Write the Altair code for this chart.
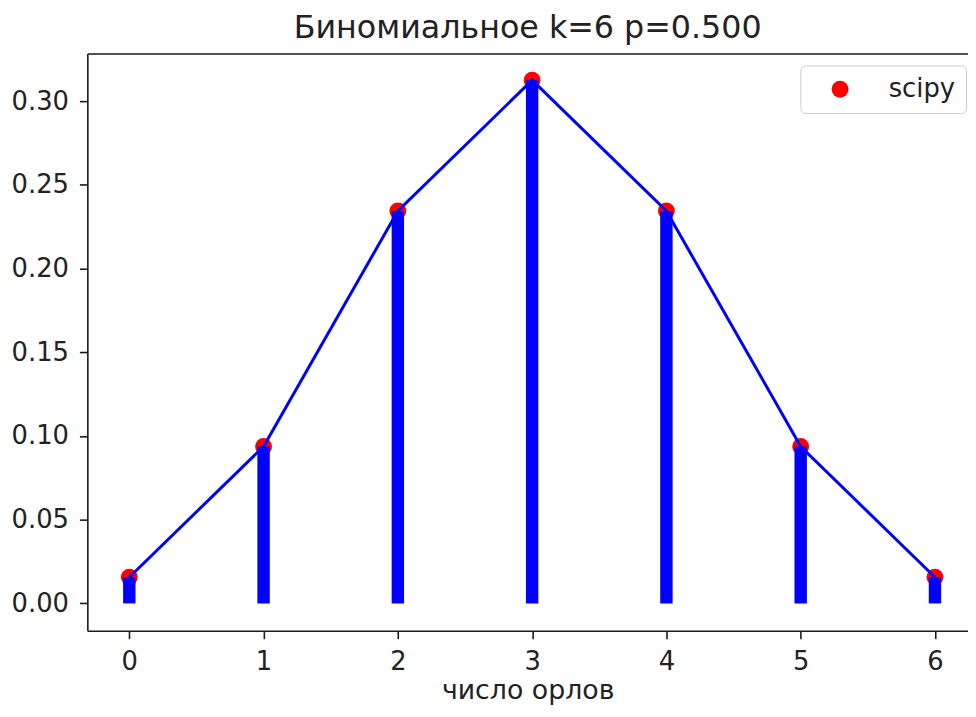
import altair as alt
import pandas as pd

# ---- data ----
k_values = [0, 1, 2, 3, 4, 5, 6]
pmf_values = [0.015625, 0.09375, 0.234375, 0.3125, 0.234375, 0.09375, 0.015625]
x_ticks = [0, 1, 2, 3, 4, 5, 6]
y_ticks = [0.00, 0.05, 0.10, 0.15, 0.20, 0.25, 0.30]
title_text = "Биномиальное k=6 p=0.500"
x_title = "число орлов"
legend_label = "scipy"

df = pd.DataFrame({
    "k": k_values,
    "pmf": pmf_values,
    "zero": [0.0] * len(k_values),
    "series": [legend_label] * len(k_values),
})

FONT = "DejaVu Sans"
TXT = "#222222"
SPINE = "#1a1a1a"

xscale = alt.Scale(domain=[-0.3125, 6.246], nice=False, zero=False)
yscale = alt.Scale(domain=[-0.0163, 0.3284], nice=False, zero=False)

x_axis = alt.Axis(
    orient="bottom", values=x_ticks, format="d", title=x_title, grid=False,
    domainColor=SPINE, domainWidth=1.6, tickColor=SPINE, tickWidth=1.6, tickSize=8,
    labelFontSize=26, labelFont=FONT, labelColor=TXT, labelPadding=10, labelFlush=False,
    titleFontSize=27, titleFont=FONT, titleColor=TXT, titleFontWeight="normal", titlePadding=3,
)
x_top_axis = alt.Axis(
    orient="top", labels=False, ticks=False, title=None, grid=False,
    domainColor=SPINE, domainWidth=1.6, minExtent=0, maxExtent=0,
)
x_hidden_axis = alt.Axis(
    orient="bottom", labels=False, ticks=False, domain=False, title=None, grid=False,
    minExtent=0, maxExtent=0,
)
y_axis = alt.Axis(
    orient="left", values=y_ticks, format=".2f", title=None, grid=False,
    domainColor=SPINE, domainWidth=1.6, tickColor=SPINE, tickWidth=1.6, tickSize=8,
    labelFontSize=26, labelFont=FONT, labelColor=TXT, labelPadding=11,
)

base = alt.Chart(df)

points = base.mark_circle(size=290, opacity=1).encode(
    x=alt.X("k:Q", scale=xscale, axis=x_axis),
    y=alt.Y("pmf:Q", scale=yscale, axis=y_axis),
    color=alt.Color(
        "series:N",
        scale=alt.Scale(range=["#ff0000"]),
        legend=alt.Legend(
            title=None, orient="none", legendX=719, legendY=12,
            padding=11, symbolOffset=16, labelOffset=36,
            symbolSize=290, symbolType="circle", symbolStrokeWidth=0,
            labelFontSize=26, labelFont=FONT, labelColor=TXT,
            strokeColor="#cccccc", cornerRadius=5, fillColor="white",
        ),
    ),
)

vlines = base.mark_rule(strokeWidth=12.5, color="#0000ff").encode(
    x=alt.X("k:Q", scale=xscale, axis=x_hidden_axis),
    y=alt.Y("zero:Q", scale=yscale, axis=y_axis),
    y2="pmf:Q",
)

line = base.mark_line(color="#0000ff", strokeWidth=3).encode(
    x=alt.X("k:Q", scale=xscale, axis=x_top_axis),
    y=alt.Y("pmf:Q", scale=yscale, axis=y_axis),
)

chart = (
    alt.layer(points, vlines, line)
    .resolve_axis(x="independent")
    .properties(
        width=888,
        height=582,
        padding={"left": 80, "top": 43, "right": 0, "bottom": 76},
        autosize=alt.AutoSizeParams(type="none"),
        title=alt.TitleParams(
            title_text, fontSize=32, font=FONT, fontWeight="normal", color=TXT,
            offset=9, anchor="middle", frame="group",
        ),
        background="white",
    )
    .configure_view(stroke=None)
)

chart.save("out.html", embed_options={"renderer": "svg", "actions": False})
